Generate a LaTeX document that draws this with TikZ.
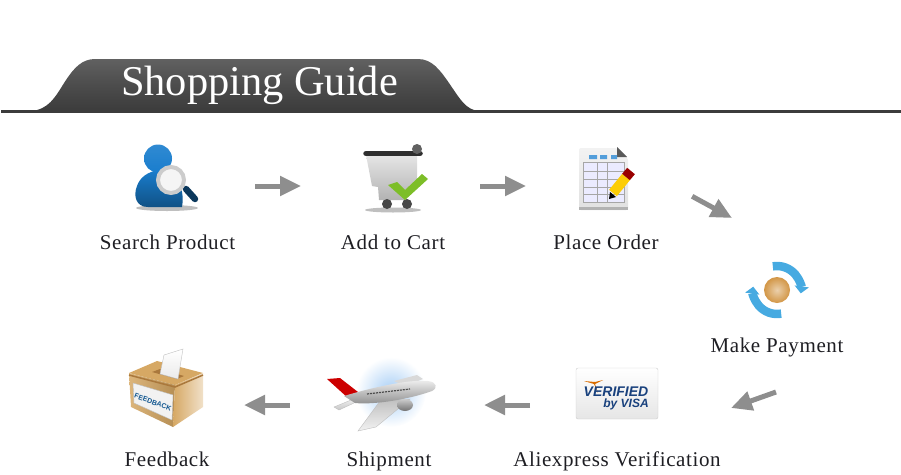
\documentclass[tikz,border=0pt]{standalone}
\usepackage{fontspec}
\setmainfont{Liberation Serif}
\setsansfont{Liberation Sans}
\newfontfamily\labelfont[LetterSpace=3]{Liberation Serif}
\usetikzlibrary{arrows.meta}
\begin{document}
\begin{tikzpicture}[x=1pt,y=-1pt]
            \definecolor{flow_color}{RGB}{142,142,142}
            \definecolor{band_color}{RGB}{60,60,60}
            \definecolor{label_color}{RGB}{30,30,35}
            \definecolor{person_color}{RGB}{25,125,205}
            \definecolor{ring_color}{RGB}{70,170,225}
            \definecolor{visa_color}{RGB}{25,65,125}
            \definecolor{check_color}{RGB}{125,190,40}
            \definecolor{wood_color}{RGB}{214,168,100}
            \definecolor{rim_color}{RGB}{170,120,60}
            \definecolor{coin_color}{RGB}{210,150,70}
            \definecolor{sky_color}{RGB}{165,205,245}
            \tikzset{
                icon/.style = {minimum width=64pt, minimum height=52pt, inner sep=0pt, outer sep=0pt},
                ann/.style = {text=label_color, font=\labelfont\fontsize{21}{24}\selectfont, inner sep=0pt, anchor=base},
                flow/.style = {line width=5pt, flow_color, -{Triangle[length=21pt,width=19pt]}},
                shadow/.style = {fill=black!25, draw=none}
            }
            \useasboundingbox (0,0) rectangle (901,474);
            % header
            \fill[band_color] (1,110) rectangle (901,113);
            \shade[top color=black!62, bottom color=band_color, middle color=black!70]
                (37,110) .. controls (52,106) and (58,92) .. (66,80) .. controls (74,68) and (82,59) .. (95,59)
                -- (418,59) .. controls (432,59) and (440,70) .. (449,83) .. controls (458,96) and (464,107) .. (474,110) -- cycle;
            \node[text=white, font=\fontsize{42.4}{48}\selectfont, inner sep=0pt, anchor=base] (title) at (259.5,95) {Shopping Guide};
            % search product
            \node[icon] (search) at (167,186) {};
            \fill[shadow] (167,208) ellipse (31 and 3);
            \shade[top color=person_color, bottom color=person_color!65!black]
                (148,207) .. controls (136,207) and (133,196) .. (137,186) .. controls (140,177) and (148,172) .. (158,170)
                .. controls (172,170) and (186,184) .. (182,207) -- cycle;
            \shade[top color=person_color!90!white, bottom color=person_color] (158,158.5) circle (14);
            \draw[line width=6.5pt, line cap=round, person_color!45!black] (186,189) -- (195,199);
            \filldraw[draw=black!20, line width=4pt, fill=black!4] (171,180) circle (13);
            % add to cart
            \node[icon] (cart) at (393,186) {};
            \fill[shadow] (393,210) ellipse (28 and 2.5);
            \shade[top color=black!10, bottom color=black!30]
                (366,155) -- (417,155) -- (417,186) -- (405,200) -- (379,200) -- (378,187) -- (372,186) -- cycle;
            \fill[black!72] (387,204) circle (5) (407,204) circle (5);
            \draw[line width=5.5pt, line cap=round, black!82] (366,153.5) -- (420,153.5);
            \fill[black!62] (417,149) circle (5);
            \fill[check_color] (388,185) -- (397,182) -- (405,190) -- (422,174) -- (428,179) -- (405,200) -- cycle;
            % place order
            \node[icon, minimum width=60pt] (order) at (606,186) {};
            \shade[top color=black!5, bottom color=black!12, rounded corners=2pt]
                (579,148) -- (617,148) -- (628,158) -- (628,210) -- (579,210) -- cycle;
            \fill[black!30] (579,207) rectangle (628,210);
            \fill[black!65] (617,147) -- (627,157) -- (617,157) -- cycle;
            \fill[person_color!75] (589,155) rectangle (597,159) (600,155) rectangle (607,159) (611,155) rectangle (617,159);
            \draw[black!35, fill=blue!8, line width=1pt] (583,162) rectangle (624,202);
            \foreach \rowy in {171,179,187,194}
                \draw[black!35, line width=1pt] (583,\rowy) -- (624,\rowy);
            \foreach \colx in {597,607}
                \draw[black!35, line width=1pt] (\colx,162) -- (\colx,202);
            \draw[line width=10pt, yellow!65!orange] (613,193) -- (626,177);
            \draw[line width=10pt, red!60!black] (626,177) -- (631,171);
            \fill[black] (609,199) -- (610,192) -- (616,197) -- cycle;
            % make payment
            \node[icon, minimum height=56pt, minimum width=60pt] (pay) at (777,290) {};
            \draw[line width=8.5pt, ring_color, -{Triangle[length=7pt,width=14pt]}] (777,290) ++(-100:24) arc (-100:8:24);
            \draw[line width=8.5pt, ring_color, -{Triangle[length=7pt,width=14pt]}] (777,290) ++(80:24) arc (80:188:24);
            \shade[inner color=coin_color!45!white, outer color=coin_color] (777,290) circle (13);
            % aliexpress verification
            \node[icon] (visa) at (617,405) {};
            \shade[top color=white, bottom color=black!10, draw=black!20, rounded corners=2pt] (576,368) rectangle (658,419);
            \fill[orange!85!black] (584,381) -- (594,384) -- (598,393) -- (595,384) -- (603,380) -- (595,382) -- cycle;
            \node[text=visa_color, inner sep=0pt, font=\sffamily\bfseries\itshape\fontsize{14}{15}\selectfont] (verified) at (616,391.5) {VERIFIED};
            \node[text=visa_color, inner sep=0pt, font=\sffamily\bfseries\itshape\fontsize{12}{13}\selectfont] (byvisa) at (626,404.5) {by VISA};
            % shipment
            \node[icon] (plane) at (389,405) {};
            \shade[inner color=sky_color, outer color=white] (391,392) circle (35);
            \shade[top color=black!25, bottom color=black!5, draw=black!25, line width=0.4pt] (380,401) -- (410,399) -- (376,427) -- (358,431) -- cycle;
            \fill[black!15] (394,381) -- (417,375) -- (423,379) -- (405,386) -- cycle;
            \fill[red!80!black] (327,379) -- (340,378) -- (358,392) -- (348,398) -- cycle;
            \shade[top color=black!5, bottom color=black!22, draw=black!25, line width=0.4pt] (334,407) -- (356,398) -- (354,403) -- (339,410) -- cycle;
            \shade[top color=black!5, bottom color=black!45]
                (344,396) .. controls (370,388) and (410,379) .. (428,381) .. controls (437,382) and (438,388) .. (432,391)
                .. controls (410,399) and (375,405) .. (355,403) -- cycle;
            \shade[top color=black!20, bottom color=black!55] (405,405) ellipse (8 and 6);
            \draw[black!70, line width=1.2pt, dash pattern=on 2pt off 1pt] (367,394) -- (410,389);
            % feedback
            \node[icon] (box) at (167,405) {};
            \fill[wood_color] (129,373) -- (157,361) -- (203,373) -- (175,385) -- cycle;
            \fill[rim_color] (152,372) -- (160,369) -- (184,376) -- (177,379) -- cycle;
            \shade[top color=white, bottom color=black!8, draw=black!25] (164,355) -- (183,349) -- (178,379) -- (160,374) -- cycle;
            \shade[left color=wood_color!85!white, right color=wood_color!85!black] (129,373) -- (175,385) -- (173,427) -- (131,407) -- cycle;
            \shade[left color=wood_color, right color=wood_color!35!white] (175,385) -- (203,373) -- (203,407) -- (173,427) -- cycle;
            \draw[rim_color, line width=1.5pt] (129,375) -- (175,387) -- (203,375);
            \fill[black!5, draw=black!25] (133,383) -- (173,395) -- (172,420) -- (134,403) -- cycle;
            \node[text=person_color!70!black, inner sep=0pt, rotate=-20, font=\sffamily\bfseries\fontsize{7}{8}\selectfont] (feedbacktag) at (153,402) {FEEDBACK};
            % labels
            \node[ann] (searchtxt) at (167.5,249) {Search Product};
            \node[ann] (carttxt) at (393,249) {Add to Cart};
            \node[ann] (ordertxt) at (606,249) {Place Order};
            \node[ann] (paytxt) at (777,352) {Make Payment};
            \node[ann] (visatxt) at (617,466) {Aliexpress Verification};
            \node[ann] (planetxt) at (389,466) {Shipment};
            \node[ann] (boxtxt) at (167,466) {Feedback};
            % arrows
            \coordinate (payin) at (732,218);
            \coordinate (payout) at (776,392);
            \coordinate (visain) at (731,408);
            \draw[flow, shorten <=56pt, shorten >=60pt] (search) -- (cart);
            \draw[flow, shorten <=55pt, shorten >=50pt] (cart) -- (order);
            \draw[flow, shorten <=63.9pt] (order.34.7) -- (payin);
            \draw[flow] (payout) -- (visain);
            \draw[flow, shorten <=55pt, shorten >=63pt] (visa) -- (plane);
            \draw[flow, shorten <=67pt, shorten >=45pt] (plane) -- (box);
        \end{tikzpicture}
\end{document}
